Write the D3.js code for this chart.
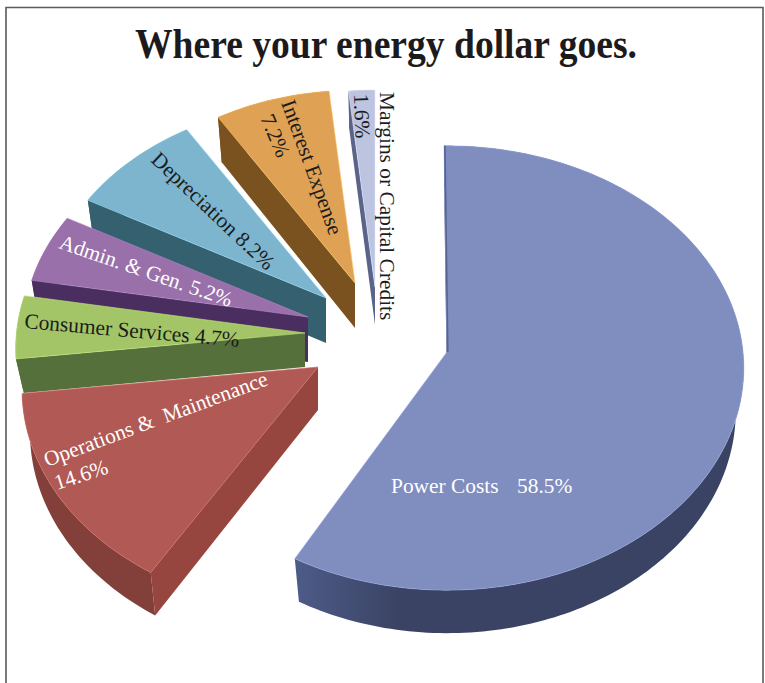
<!DOCTYPE html>
<html>
<head>
<meta charset="utf-8">
<script src="https://cdn.jsdelivr.net/npm/d3@7/dist/d3.min.js"></script>
<style>
html,body{margin:0;padding:0;background:#fff;overflow:hidden}
text{font-family:"Liberation Serif","Times New Roman",serif}
</style>
</head>
<body>
<svg id="chart" width="765" height="683" viewBox="0 0 765 683"></svg>
<script>
// ---- data ----
const titleText = "Where your energy dollar goes.";
const categories = ["Power Costs","Operations & Maintenance","Consumer Services","Admin. & Gen.","Depreciation","Interest Expense","Margins or Capital Credits"];
const shares = [58.5,14.6,4.7,5.2,8.2,7.2,1.6];

// ---- styles ----
const topColors  = ["#7f8dbf","#b15a55","#a3c567","#9a70aa","#7cb5cd","#dfa254","#bdc4e0"];
const wallColors = ["#3a4363","#96463f","#55703a","#4a2e5f","#34606f","#7a5220","#5a6488"];
const rimColors  = ["#3a4363","#83403b","#55703a","#4a2e5f","#34606f","#7a5220","#5a6488"];

// ---- exploded-pie layout: where each wedge's tip sits, its size, thickness, view distortion ----
const tipX   = [447,318,305,308,326,355,375];
const tipY   = [352,367,333,317,298,283,287];
const sizeK  = [1,.995,.975,.96,.95,.935,.955];
const depths = [43,43,34,45,45,45,38];
const perspK = [.072,.1,.072,.072,.072,.072,.072];
const startNudge = [-.6,.7,0,0,0,0,0];
const endNudge   = [-1.8,0,0,0,0,0,0];
const paintOrder = [0,6,5,4,3,2,1];

const svg = d3.select("#chart");
const W = 765, H = 683;

// frame (open at the bottom)
svg.append("path")
  .attr("d", d3.line()([[6,H],[6,7.5],[763,7.5],[763,H]]))
  .attr("fill","none").attr("stroke","#5a5a5a").attr("stroke-width",1.6);

svg.append("text").text(titleText)
  .attr("x",135).attr("y",58)
  .attr("textLength",502).attr("lengthAdjust","spacingAndGlyphs")
  .attr("font-size",42.5).attr("font-weight","bold").attr("fill","#1c1a1b");

// pie layout
const arcs = d3.pie().sort(null).value(d=>d).startAngle(0).endAngle(2*Math.PI)(shares);

// tilted-disc projection with mild perspective
const radiusX = d3.scaleLinear().domain([0,1]).range([0,296]);
const radiusY = d3.scaleLinear().domain([0,1]).range([0,221]);
const inward = 0.027;
const rad = d3.scaleLinear().domain([0,180]).range([0,Math.PI]);
function proj(i, ang){
  const u = Math.sin(ang), v = -Math.cos(ang), f = 1/(1-perspK[i]*v);
  return [tipX[i]+sizeK[i]*radiusX(u)*f, tipY[i]+sizeK[i]*radiusY(v)*f];
}
function drop(i,p){ return [p[0]-inward*(p[0]-tipX[i]), p[1]+depths[i]]; }
function arcPts(i,a0,a1){
  const n = Math.max(6,Math.ceil((a1-a0)/0.02));
  return d3.range(n+1).map(k=>proj(i,a0+(a1-a0)*k/n));
}
const line = d3.line().curve(d3.curveLinear);

const defs = svg.append("defs");
const rimGrad = defs.append("linearGradient").attr("id","rim0")
  .attr("gradientUnits","userSpaceOnUse").attr("x1",295).attr("x2",400).attr("y1",0).attr("y2",0);
rimGrad.append("stop").attr("offset",0).attr("stop-color","#4d5b88");
rimGrad.append("stop").attr("offset",1).attr("stop-color","#3a4363");

const gWedges = svg.append("g");
paintOrder.forEach(i=>{
  const a = arcs[i];
  const g = gWedges.append("g").attr("class","wedge");
  const edge = arcPts(i,a.startAngle+rad(startNudge[i]),a.endAngle+rad(endNudge[i]));
  const tip = [tipX[i],tipY[i]];
  // outer rim
  g.append("path")
    .attr("d", line(edge.concat(edge.slice().reverse().map(p=>drop(i,p))))+"Z")
    .attr("fill", i===0 ? "url(#rim0)" : rimColors[i]);
  // radial wall on the start side
  const s = edge[0];
  g.append("path")
    .attr("d", line([tip,s,drop(i,s),drop(i,tip)])+"Z")
    .attr("fill", wallColors[i]);
  // top surface
  g.append("path")
    .attr("d", line([tip].concat(edge))+"Z")
    .attr("fill", topColors[i])
    .attr("stroke", d3.color(topColors[i]).brighter(0.5))
    .attr("stroke-width",0.6);
  // shaded lip of the largest wedge's upright straight edge
  if(i===0){
    g.append("path").attr("d",line([[s[0]+.8,s[1]],[tip[0]+.8,tip[1]]]))
      .attr("fill","none").attr("stroke","#566494").attr("stroke-width",1.6);
  }
});

// ---- labels ----
const labelTexts = [
  ["Power Costs","58.5%"],
  ["Operations &  Maintenance","14.6%"],
  ["Consumer Services 4.7%"],
  ["Admin. & Gen. 5.2%"],
  ["Depreciation 8.2%"],
  ["Interest Expense","7.2%"],
  ["Margins or Capital Credits","1.6%"]
];
const labelPlace = [
  [[391,493,0,21.4,"#fff"],[517,493,0,21.4,"#fff"]],
  [[47,467,-20.3,21.4,"#fff"],[57,490,-18,21.4,"#fff"]],
  [[24,328,5,21.4,"#1c1c1c"]],
  [[58,248,19,21.2,"#fff"]],
  [[150,161,43.5,21.4,"#1c1c1c"]],
  [[281,103,70,21.4,"#1c1c1c"],[260,118,67,21.4,"#1c1c1c"]],
  [[380,92,90,21.4,"#1c1c1c"],[354,94,88,21.4,"#1c1c1c"]]
];
labelTexts.forEach((lines,i)=>lines.forEach((t,j)=>{
  const [x,y,rot,size,fill] = labelPlace[i][j];
  svg.append("text").text(t)
    .attr("transform",`translate(${x},${y}) rotate(${rot})`)
    .attr("font-size",size).attr("fill",fill)
    .style("white-space","pre");
}));
</script>
</body>
</html>
